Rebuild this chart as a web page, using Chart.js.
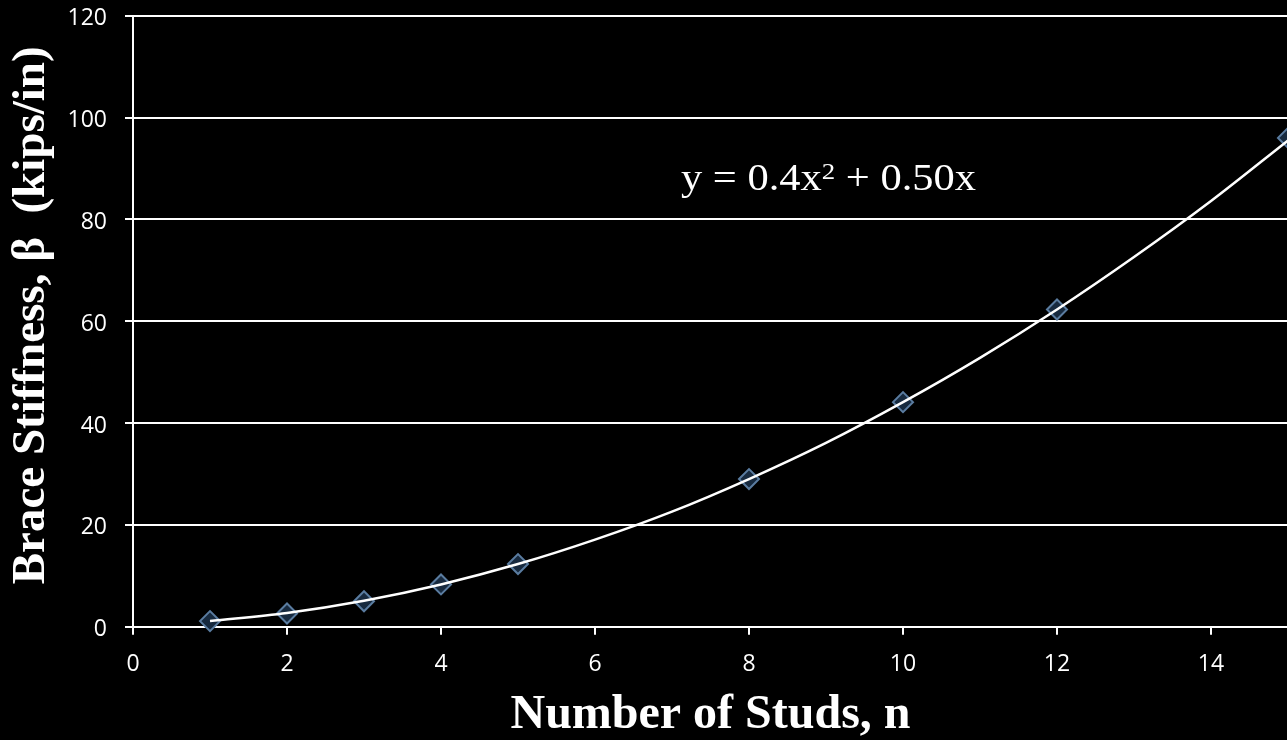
<!DOCTYPE html>
<html>
<head>
<meta charset="utf-8">
<script src="https://cdn.jsdelivr.net/npm/chart.js@4/dist/chart.umd.min.js"></script>
<style>
  html, body { margin: 0; padding: 0; background: #000; overflow: hidden; }
  #wrap { position: relative; width: 1300px; height: 740px; }
</style>
</head>
<body>
<div id="wrap"><canvas id="c"></canvas></div>
<script>
// Measured data points (number of studs vs brace stiffness)
const studs = [1, 2, 3, 4, 5, 8, 10, 12, 15];
const stiffness = [1.1, 2.6, 5.0, 8.3, 12.3, 29.0, 44.1, 62.3, 96.0];

// Trend line
const trendX = [1, 2, 3, 4, 5, 6, 7, 8, 9, 10, 11, 12, 13, 14, 15];
const trendY = [1.1, 2.7, 5.1, 8.3, 12.3, 17.1, 22.6, 29.0, 36.1, 44.1, 52.8, 62.3, 72.6, 83.6, 95.5];

// Axis ticks
const xTicks = [0, 2, 4, 6, 8, 10, 12, 14];
const yTicks = [0, 20, 40, 60, 80, 100, 120];

const xTitle = 'Number of Studs, n';
const yTitle = ' Brace Stiffness, \u03B2  (kips/in)';
const eqParts = ['y = 0.4x', '2', ' + 0.50x'];

const bgPlugin = {
  id: 'bg',
  beforeDraw(chart) {
    const ctx = chart.ctx;
    ctx.save();
    ctx.fillStyle = '#000';
    ctx.fillRect(0, 0, chart.width, chart.height);
    ctx.restore();
  }
};

const eqPlugin = {
  id: 'equation',
  afterDraw(chart) {
    const ctx = chart.ctx;
    ctx.save();
    const big = '38px "Liberation Serif", "Times New Roman", serif';
    const small = '24px "Liberation Serif", "Times New Roman", serif';
    ctx.font = big;
    const w1 = ctx.measureText(eqParts[0]).width;
    const w3 = ctx.measureText(eqParts[2]).width;
    ctx.font = small;
    const w2 = ctx.measureText(eqParts[1]).width;
    const total = w1 + w2 + w3;
    const sx = 295 / total;
    ctx.translate(681, 190);
    ctx.scale(sx, 1);
    ctx.fillStyle = '#ffffff';
    ctx.textBaseline = 'alphabetic';
    ctx.textAlign = 'left';
    ctx.font = big;
    ctx.fillText(eqParts[0], 0, 0);
    ctx.font = small;
    ctx.fillText(eqParts[1], w1, -11);
    ctx.font = big;
    ctx.fillText(eqParts[2], w1 + w2, 0);
    ctx.restore();
  }
};

const tickFont = { family: '"Open Sans", sans-serif', size: 23 };
const titleFontX = { family: '"Liberation Serif", "Times New Roman", serif', size: 48, weight: 'bold', lineHeight: 1 };
const titleFontY = { family: '"Liberation Serif", "Times New Roman", serif', size: 47, weight: 'bold', lineHeight: 1 };

new Chart(document.getElementById('c'), {
  type: 'scatter',
  data: {
    datasets: [
      {
        label: 'Trend',
        data: trendX.map((x, i) => ({ x: x, y: trendY[i] })),
        showLine: true,
        borderColor: '#ffffff',
        borderWidth: 2.5,
        pointRadius: 0,
        cubicInterpolationMode: 'monotone',
        fill: false,
        order: 0,
        clip: false
      },
      {
        label: 'Stiffness',
        data: studs.map((x, i) => ({ x: x, y: stiffness[i] })),
        showLine: false,
        pointStyle: 'rectRot',
        pointRadius: 10,
        pointBackgroundColor: '#172a3f',
        pointBorderColor: '#5a7ca0',
        pointBorderWidth: 2,
        order: 1,
        clip: false
      }
    ]
  },
  plugins: [bgPlugin, eqPlugin],
  options: {
    responsive: true,
    maintainAspectRatio: false,
    animation: false,
    events: [],
    layout: { padding: { top: 15.7, right: 9, left: 0, bottom: 0 } },
    plugins: { legend: { display: false }, tooltip: { enabled: false } },
    scales: {
      x: {
        type: 'linear',
        min: 0,
        max: 15,
        afterBuildTicks(scale) { scale.ticks = xTicks.map(v => ({ value: v })); },
        afterFit(scale) { scale.height = 113.3; scale.paddingLeft = 0; scale.paddingRight = 0; },
        ticks: { color: '#ffffff', font: tickFont, padding: 16, maxRotation: 0, autoSkip: false,
                 callback: (v) => String(v) },
        grid: { drawOnChartArea: false, drawTicks: true, tickLength: 8, color: '#ffffff', lineWidth: 2 },
        border: { display: true, color: '#ffffff', width: 2 },
        title: { display: true, text: xTitle, color: '#ffffff', font: titleFontX, padding: { top: 0, bottom: 0 } }
      },
      y: {
        type: 'linear',
        min: 0,
        max: 120,
        afterBuildTicks(scale) { scale.ticks = yTicks.map(v => ({ value: v })); },
        afterFit(scale) { scale.width = 133; scale.paddingTop = 0; scale.paddingBottom = 0; },
        ticks: { color: '#ffffff', font: tickFont, padding: 18, labelOffset: 3, callback: (v) => String(v) },
        grid: { drawOnChartArea: true, drawTicks: true, tickLength: 8, color: '#ffffff', lineWidth: 2 },
        border: { display: true, color: '#ffffff', width: 2 },
        title: { display: true, text: yTitle, color: '#ffffff', font: titleFontY, padding: { top: 8, bottom: 0 } }
      }
    }
  }
});
</script>
</body>
</html>
